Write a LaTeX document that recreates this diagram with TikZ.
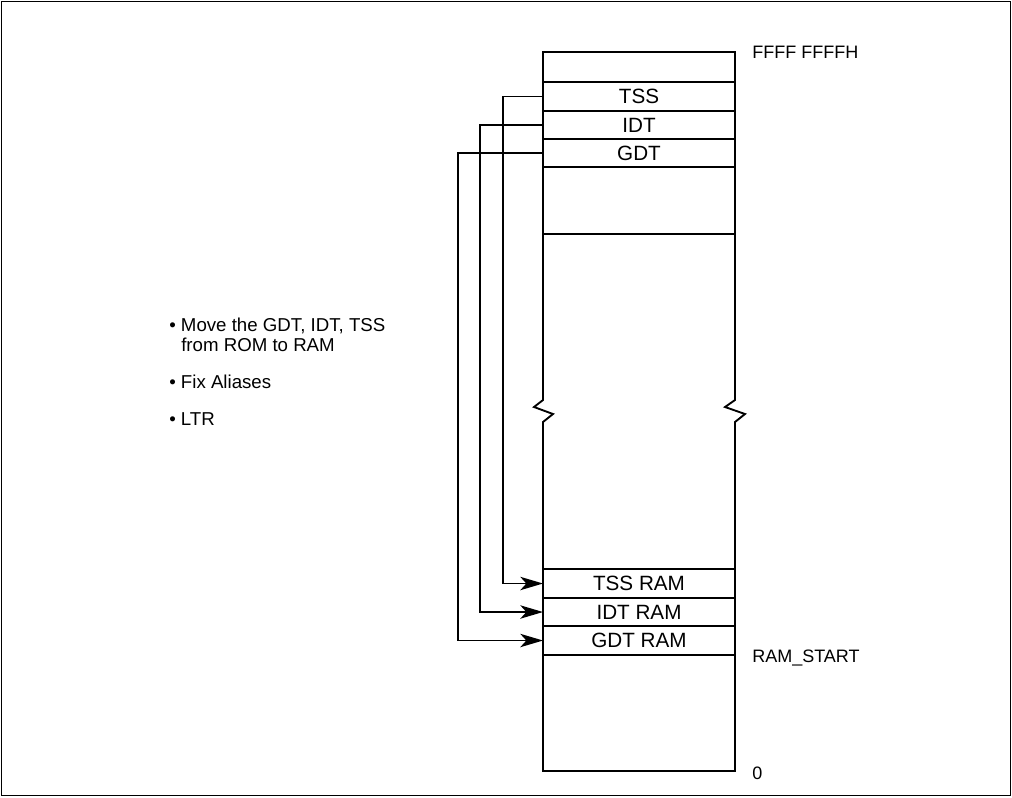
\documentclass[tikz,border=0pt]{standalone}
\usepackage{fontspec}
\setmainfont{Liberation Sans}
\usetikzlibrary{arrows.meta}

\tikzset{
  cell/.style={draw, line width=1.4pt, minimum width=144pt, inner sep=0pt, outer sep=0pt,
    font=\fontsize{15.5}{18}\selectfont},
  addr/.style={anchor=west, inner sep=0pt, font=\fontsize{13.5}{16}\selectfont},
  note/.style={anchor=west, inner sep=0pt, font=\fontsize{14}{17}\selectfont},
  arr/.style={line width=1.4pt, -{Stealth[length=17pt,width=10pt,inset=4.5pt]}}
}

\begin{document}
\begin{tikzpicture}[x=0.75pt,y=-0.75pt]
\useasboundingbox (0,0) rectangle (1012,797);
\draw[line width=1.4pt] (1.5,1.5) rectangle (1010.5,795.5);

% memory map, upper part
\node[cell, minimum height=22.5pt] (top) at (639,67) {};
\node[cell, minimum height=21.75pt] (tss) at (639,96.5) {TSS};
\node[cell, minimum height=21pt] (idt) at (639,125) {IDT};
\node[cell, minimum height=21pt] (gdt) at (639,153) {GDT};
\node[cell, minimum height=50.25pt] (free) at (639,200.5) {};

% memory map, lower part
\node[cell, minimum height=21.75pt] (tssram) at (639,583.5) {TSS RAM};
\node[cell, minimum height=21pt] (idtram) at (639,612) {IDT RAM};
\node[cell, minimum height=21.75pt] (gdtram) at (639,640.5) {GDT RAM};
\node[cell, minimum height=87pt] (low) at (639,713) {};

% broken sides
\draw[line width=1.4pt] (free.south west) -- (543,400) -- (534,407) -- (553,414)
  -- (543,422) -- (tssram.north west);
\draw[line width=1.4pt] (free.south east) -- (735,400) -- (725,407) -- (745,414)
  -- (735,422) -- (tssram.north east);

% addresses
\node[addr] (hi) at (752,52) {FFFF FFFFH};
\node[addr] (ramstart) at (752,658) {RAM\_START};
\node[addr] (zero) at (752,773) {0};

% moves
\draw[arr] (tss.west) -- ++(-40,0) |- (tssram.west);
\draw[arr] (idt.west) -- ++(-63,0) |- (idtram.west);
\draw[arr] (gdt.west) -- ++(-85,0) |- (gdtram.west);

% steps
\node[note] (s1) at (169,326) {• Move the GDT, IDT, TSS};
\node[note] (s1b) at (181,345) {from ROM to RAM};
\node[note] (s2) at (169,382) {• Fix Aliases};
\node[note] (s3) at (169,419) {• LTR};
\end{tikzpicture}
\end{document}
